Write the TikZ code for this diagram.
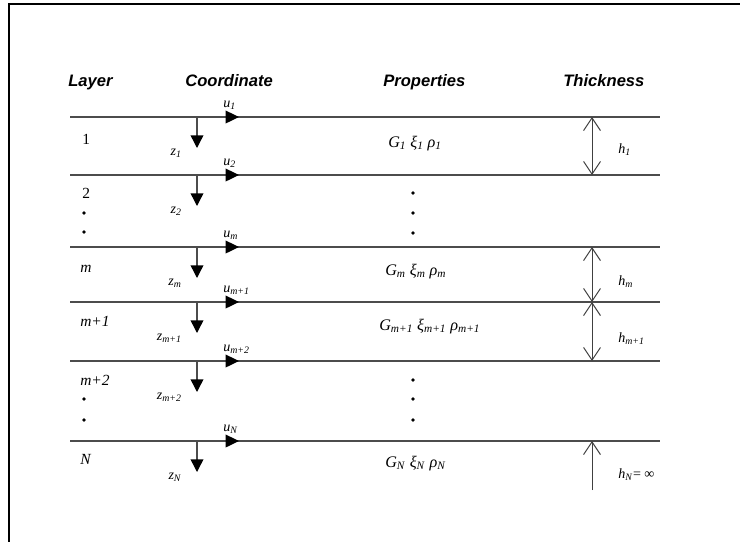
\documentclass[tikz,border=0pt]{standalone}
\usepackage{fontspec}
\setmainfont{Liberation Serif}
\setsansfont{Liberation Sans}
\usetikzlibrary{arrows.meta}
\newcommand{\lsub}[2]{\textit{#1}\textsubscript{\textit{#2}}}
\tikzset{
  frame/.style={line width=1.3pt,black},
  layerline/.style={line width=1pt,black!70},
  head/.style={font=\sffamily\bfseries\itshape\fontsize{11.8}{14}\selectfont,inner sep=0pt,anchor=base west},
  layerlab/.style={font=\fontsize{11}{13}\selectfont,inner sep=0pt,anchor=base west},
  proplab/.style={font=\fontsize{11.5}{13}\selectfont,inner sep=0pt,anchor=base west},
  smalllab/.style={font=\fontsize{10}{12}\selectfont,inner sep=0pt},
  uarrow/.style={-{Triangle[length=9.5pt,width=9pt,color=black]}},
  zarrow/.style={-{Triangle[length=9pt,width=9pt,color=black]}},
  harrow/.style={line width=0.7pt,black!75,{Straight Barb[length=9pt,width=12pt]}-{Straight Barb[length=9pt,width=12pt]}},
  hup/.style={line width=0.7pt,black!75,-{Straight Barb[length=9pt,width=12pt]}},
  dot/.style={circle,fill=black,inner sep=0pt,minimum size=2.8pt}
}
\begin{document}
\begin{tikzpicture}[x=0.025cm,y=0.025cm,>=stealth]
  \useasboundingbox (0,0) rectangle (740,-542);
  \fill[white] (0,0) rectangle (740,-542);
  \draw[frame] (740,-4) -- (9,-4) -- (9,-542);
  % column heads
  \node[head] (hlayer) at (68,-86) {Layer};
  \node[head] (hcoord) at (185,-86) {Coordinate};
  \node[head] (hprop) at (383,-86) {Properties};
  \node[head] (hthick) at (563,-86) {Thickness};
  % interfaces with u and z axes
  \foreach \i/\y/\s in {1/117/1,2/175/2,3/247/m,4/302/m+1,5/361/m+2,6/441/N}{
    \coordinate (w\i) at (70,-\y);
    \coordinate (e\i) at (660,-\y);
    \coordinate (h\i) at (592,-\y);
    \draw[layerline] (w\i) -- (e\i);
    \draw[layerline,uarrow] (205,-\y) -- (239,-\y);
    \draw[layerline,zarrow] (197,-\y) -- (197,-\y-31);
    \node[smalllab,anchor=base west] (u\i) at (223,-\y+10) {\lsub{u}{\s}};
    \node[smalllab,anchor=base east] (z\i) at (182,-\y-38) {\lsub{z}{\s}};
  }
  % layer numbers
  \node[layerlab] (lay1) at (82,-144) {1};
  \node[layerlab] (lay2) at (82,-198) {2};
  \node[layerlab] (laym) at (80,-272) {\textit{m}};
  \node[layerlab] (laym1) at (80,-326) {\textit{m+1}};
  \node[layerlab] (laym2) at (80,-385) {\textit{m+2}};
  \node[layerlab] (layN) at (80,-464) {\textit{N}};
  \foreach \y in {213,232,399,420}
    \node[dot] at (84,-\y) {};
  % properties
  \node[proplab] (prop1) at (388,-147) {\lsub{G}{1}~\lsub{ξ}{1}~\lsub{ρ}{1}};
  \node[proplab] (propm) at (385,-275) {\lsub{G}{m}~\lsub{ξ}{m}~\lsub{ρ}{m}};
  \node[proplab] (propm1) at (379,-330) {\lsub{G}{m+1}~\lsub{ξ}{m+1}~\lsub{ρ}{m+1}};
  \node[proplab] (propN) at (385,-467) {\lsub{G}{N}~\lsub{ξ}{N}~\lsub{ρ}{N}};
  \foreach \y in {193,213,233,380,399,420}
    \node[dot] at (413,-\y) {};
  % thickness
  \coordinate (hbot) at (592,-490);
  \draw[harrow] (h1) -- (h2);
  \draw[harrow] (h3) -- (h4);
  \draw[harrow] (h4) -- (h5);
  \draw[hup] (hbot) -- (h6);
  \node[smalllab,anchor=base west] (th1) at (618,-153) {\lsub{h}{1}};
  \node[smalllab,anchor=base west] (thm) at (618,-285) {\lsub{h}{m}};
  \node[smalllab,anchor=base west] (thm1) at (618,-342) {\lsub{h}{m+1}};
  \node[smalllab,anchor=base west] (thN) at (618,-478) {\lsub{h}{N}= ∞};
\end{tikzpicture}
\end{document}
